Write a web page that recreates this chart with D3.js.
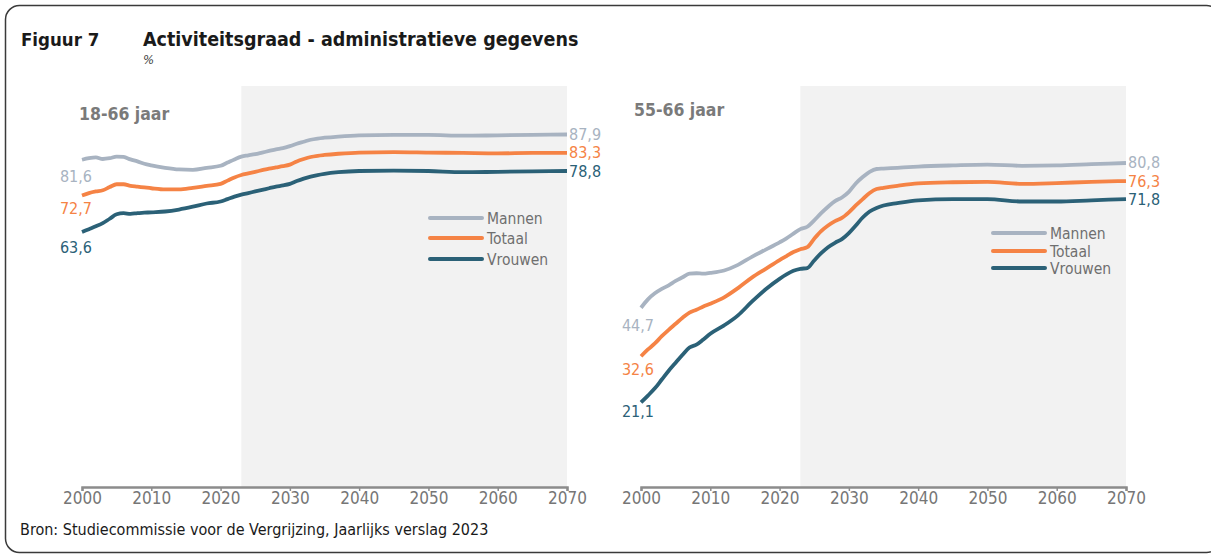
<!DOCTYPE html>
<html>
<head>
<meta charset="utf-8">
<script src="https://cdn.jsdelivr.net/npm/d3@7"></script>
<style>
  html, body { margin: 0; padding: 0; background: #fff; }
  svg { display: block; }
  text { font-family: "DejaVu Sans Condensed", "DejaVu Sans", sans-serif; }
</style>
</head>
<body>
<svg id="chart" width="1211" height="558"></svg>
<script>
// ---------- data ----------
const years = [2000,2001,2002,2003,2004,2005,2006,2007,2008,2009,2010,2012,2014,2016,2018,2020,2021,2022,2023,2024,2025,2026,2027,2028,2029,2030,2031,2032,2033,2034,2035,2037,2040,2045,2050,2055,2060,2065,2070];

const mannen1866 = [81.6,82.0,82.2,81.8,82.0,82.4,82.3,81.7,81.2,80.6,80.2,79.6,79.2,79.1,79.6,80.1,80.9,81.7,82.4,82.7,83.0,83.4,83.8,84.2,84.5,85.0,85.6,86.1,86.6,86.9,87.1,87.4,87.7,87.8,87.8,87.6,87.7,87.8,87.9];
const totaal1866 = [72.7,73.3,73.7,74.0,74.8,75.5,75.5,75.1,74.9,74.7,74.5,74.2,74.2,74.6,75.1,75.6,76.4,77.2,77.8,78.2,78.6,79.0,79.4,79.7,80.0,80.4,81.2,81.8,82.3,82.6,82.8,83.1,83.4,83.5,83.4,83.3,83.2,83.3,83.3];
const vrouwen1866 = [63.6,64.3,65.0,65.8,66.9,68.0,68.3,68.1,68.3,68.4,68.5,68.7,69.2,69.9,70.7,71.2,71.8,72.4,72.9,73.3,73.7,74.1,74.5,74.9,75.2,75.6,76.3,76.9,77.4,77.8,78.1,78.5,78.8,78.9,78.8,78.5,78.6,78.7,78.8];

const mannen5566 = [44.7,46.8,48.3,49.4,50.3,51.4,52.3,53.2,53.3,53.2,53.4,54.0,55.4,57.4,59.2,61.0,62.0,63.2,64.3,64.9,66.5,68.3,69.9,71.3,72.2,73.6,75.7,77.3,78.6,79.3,79.4,79.6,79.9,80.2,80.4,80.1,80.2,80.5,80.8];
const totaal5566 = [32.6,34.3,35.8,37.6,39.2,40.7,42.2,43.5,44.2,45.0,45.7,47.3,49.6,52.2,54.4,56.6,57.6,58.6,59.3,59.8,61.9,63.8,65.2,66.3,67.1,68.5,70.2,71.8,73.3,74.3,74.6,75.1,75.7,76.0,76.1,75.6,75.8,76.1,76.3];
const vrouwen5566 = [21.1,22.8,24.6,26.8,29.0,31.0,33.0,34.8,35.5,36.8,38.2,40.3,42.8,46.2,49.3,51.9,53.0,53.9,54.4,54.6,56.5,58.3,59.8,60.9,61.8,63.3,65.2,67.2,68.7,69.6,70.2,70.8,71.5,71.8,71.8,71.2,71.2,71.5,71.8];

const seriesNames = ["Mannen", "Totaal", "Vrouwen"];
const seriesColors = ["#a8b3c1", "#f58345", "#2b6177"];
const xTicks = [2000,2010,2020,2030,2040,2050,2060,2070];
const projectionStart = 2023;
const panelTitles = ["18-66 jaar", "55-66 jaar"];

const fmt = v => v.toFixed(1).replace(".", ",");

// ---------- layout ----------
const svg = d3.select("#chart");

svg.append("rect")
  .attr("x", 5.5).attr("y", 5.5)
  .attr("width", 1215).attr("height", 547)
  .attr("rx", 14).attr("ry", 14)
  .attr("fill", "none").attr("stroke", "#3a3a3a").attr("stroke-width", 1.5);

svg.append("text").attr("x", 21).attr("y", 46)
  .attr("font-size", 18.5).attr("font-weight", "bold").attr("fill", "#1a1a1a")
  .text("Figuur 7");
svg.append("text").attr("x", 143).attr("y", 46)
  .attr("font-size", 19.5).attr("font-weight", "bold").attr("fill", "#1a1a1a")
  .text("Activiteitsgraad - administratieve gegevens");
svg.append("text").attr("x", 143).attr("y", 64)
  .attr("font-size", 13).attr("font-style", "italic").attr("fill", "#444")
  .text("%");

svg.append("text").attr("x", 20).attr("y", 535)
  .attr("font-size", 16).attr("fill", "#1a1a1a")
  .text("Bron: Studiecommissie voor de Vergrijzing, Jaarlijks verslag 2023");

const panels = [
  { x0: 82, x1: 567, series: [mannen1866, totaal1866, vrouwen1866], titleX: 79, titleY: 120,
    legX: 430, legY: [218, 238, 259],
    startLabelX: 92, startLabelDy: [17, 13, 16] },
  { x0: 641, x1: 1126, series: [mannen5566, totaal5566, vrouwen5566], titleX: 634, titleY: 116,
    legX: 993, legY: [233, 251, 268],
    startLabelX: 654, startLabelDy: [18, 13, 9] }
];

const yTop = 86, yBot = 487;

panels.forEach((p, pi) => {
  const x = d3.scaleLinear().domain([2000, 2070]).range([p.x0, p.x1]);
  const y = d3.scaleLinear().domain([0, 100]).range([yBot, yTop]);
  const g = svg.append("g");

  // projection shading
  g.append("rect")
    .attr("x", x(projectionStart)).attr("y", y(100))
    .attr("width", x(2070) - x(projectionStart))
    .attr("height", y(0) - y(100))
    .attr("fill", "#f2f2f2");

  // axis
  const axis = d3.axisBottom(x).tickValues(xTicks).tickFormat(d3.format("d")).tickSize(4).tickPadding(1);
  const ax = g.append("g").attr("transform", `translate(0,${yBot})`).call(axis);
  ax.select(".domain").attr("stroke", "#8c8c8c").attr("stroke-width", 2.5);
  ax.selectAll(".tick line").attr("stroke", "#8c8c8c").attr("stroke-width", 1.5);
  ax.selectAll(".tick text").attr("fill", "#767676").attr("font-size", 17)
    .attr("font-family", "DejaVu Sans Condensed, DejaVu Sans, sans-serif");

  // panel title
  g.append("text").attr("x", p.titleX).attr("y", p.titleY)
    .attr("font-size", 17.5).attr("font-weight", "bold").attr("fill", "#7a7a7a")
    .text(panelTitles[pi]);

  const line = d3.line().x((d, i) => x(years[i])).y(d => y(d)).curve(d3.curveMonotoneX);

  p.series.forEach((vals, si) => {
    g.append("path").datum(vals)
      .attr("d", line)
      .attr("fill", "none")
      .attr("stroke", seriesColors[si])
      .attr("stroke-width", 3.8)
      .attr("stroke-linejoin", "round");

    // start label
    g.append("text")
      .attr("x", p.startLabelX).attr("y", y(vals[0]) + p.startLabelDy[si] + 5.5)
      .attr("text-anchor", "end")
      .attr("font-size", 16).attr("fill", seriesColors[si])
      .text(fmt(vals[0]));

    // end label
    g.append("text")
      .attr("x", x(2070) + 2).attr("y", y(vals[vals.length - 1]) + 5.5)
      .attr("font-size", 16).attr("fill", seriesColors[si])
      .text(fmt(vals[vals.length - 1]));

    // legend
    g.append("line")
      .attr("x1", p.legX).attr("x2", p.legX + 52)
      .attr("y1", p.legY[si]).attr("y2", p.legY[si])
      .attr("stroke", seriesColors[si]).attr("stroke-width", 4)
      .attr("stroke-linecap", "round");
    g.append("text")
      .attr("x", p.legX + 57).attr("y", p.legY[si] + 5.5)
      .attr("font-size", 15.5).attr("fill", "#6f6f6f")
      .text(seriesNames[si]);
  });
});
</script>
</body>
</html>
